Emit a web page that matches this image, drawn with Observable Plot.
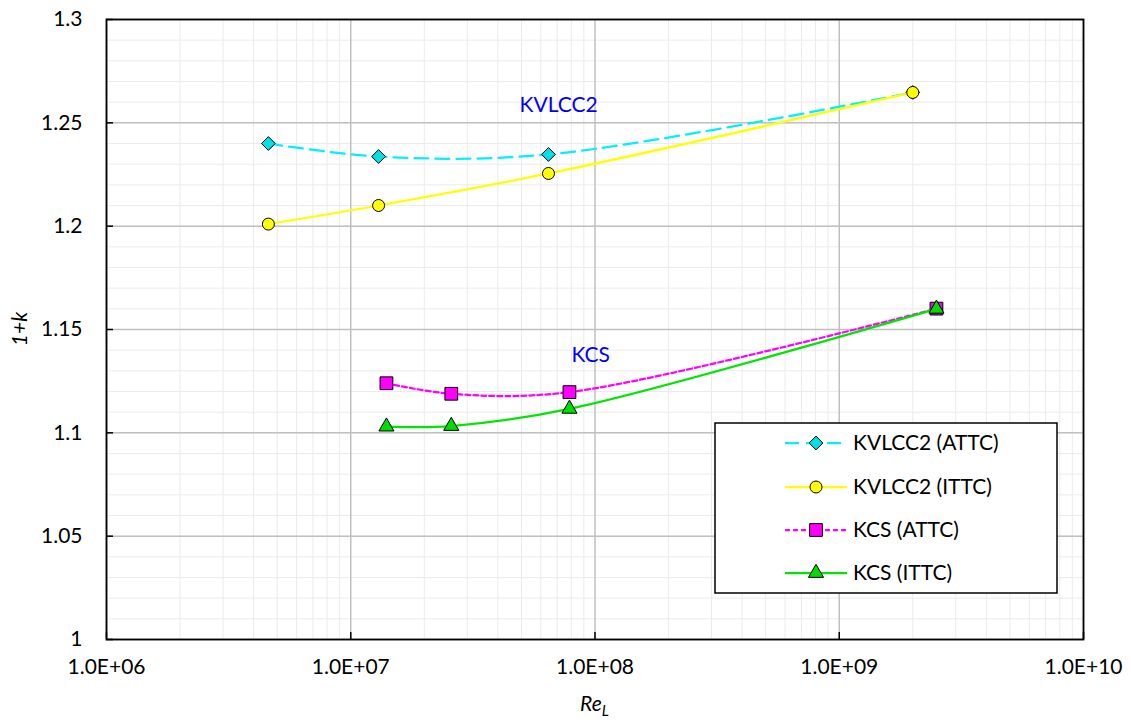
<!DOCTYPE html>
<html>
<head>
<meta charset="utf-8">
<script src="https://cdn.jsdelivr.net/npm/d3@7"></script>
<script src="https://cdn.jsdelivr.net/npm/@observablehq/plot@0.6"></script>
<style>
  body { margin: 0; background: #fff; }
  #chart { width: 1131px; height: 722px; }
</style>
</head>
<body>
<div id="chart"></div>
<script>
// Form factor (1+k) against Reynolds number for two hull forms and two extrapolation methods
const kvlccRe   = [4.6e6, 1.3e7, 6.45e7, 2.0e9];
const kvlccAttc = [1.2400, 1.2337, 1.2347, 1.2647];
const kvlccIttc = [1.2010, 1.2100, 1.2255, 1.2647];

const kcsRe   = [1.4e7, 2.58e7, 7.86e7, 2.5e9];
const kcsAttc = [1.1240, 1.1189, 1.1197, 1.1601];
const kcsIttc = [1.1030, 1.1033, 1.1116, 1.1600];

const seriesNames = ["KVLCC2 (ATTC)", "KVLCC2 (ITTC)", "KCS (ATTC)", "KCS (ITTC)"];

const xTicks = [1e6, 1e7, 1e8, 1e9, 1e10];
const yTicks = [1, 1.05, 1.1, 1.15, 1.2, 1.25, 1.3];

const shipNames   = ["KVLCC2", "KCS"];
const shipNameRe  = [7.1e7, 9.6e7];
const shipNameK   = [1.2586, 1.1375];

// Series styling
const seriesStyle = [
  { stroke: "#00f0ff", fill: "#00e0e6", dash: "14,7", symbol: "diamond2", r: 6.2 },
  { stroke: "#ffff00", fill: "#ffff00", dash: null,   symbol: "circle",   r: 6 },
  { stroke: "#ff00ff", fill: "#ff00ff", dash: "5,3",  symbol: "square",   r: 7.2 },
  { stroke: "#00e600", fill: "#00dd00", dash: null,   symbol: "triangle", r: 5.6 }
];

const rows = (re, k, name) => re.map((r, i) => ({ re: r, k: k[i], series: name }));
const series = [
  rows(kvlccRe, kvlccAttc, seriesNames[0]),
  rows(kvlccRe, kvlccIttc, seriesNames[1]),
  rows(kcsRe, kcsAttc, seriesNames[2]),
  rows(kcsRe, kcsIttc, seriesNames[3])
];

// Minor gridlines: 2..9 within each decade, and every 0.01 on the y axis
const xMinor = [];
for (let e = 6; e < 10; e++) for (let m = 2; m <= 9; m++) xMinor.push(m * Math.pow(10, e));
const yMinor = d3.range(100, 131).map(v => v / 100);

const W = 1131, H = 722, mL = 106, mR = 48, mT = 19, mB = 83;
const innerW = W - mL - mR, innerH = H - mT - mB;
const FONT = "Lato, sans-serif";
const FS = 21;

const expFormat = d => d.toExponential(1).toUpperCase().replace(/E([+-])(\d)$/, "E$10$2");

const seriesMarks = series.flatMap((data, i) => {
  const s = seriesStyle[i];
  return [
    Plot.line(data, {
      x: "re", y: "k", curve: "catmull-rom",
      stroke: s.stroke, strokeWidth: 2.25,
      strokeDasharray: s.dash || undefined
    }),
    Plot.dot(data, {
      x: "re", y: "k", symbol: () => s.symbol, r: s.r,
      fill: s.fill, stroke: "#000", strokeWidth: 1
    })
  ];
});

const plot = Plot.plot({
  width: W, height: H,
  marginLeft: mL, marginRight: mR, marginTop: mT, marginBottom: mB,
  style: { fontFamily: FONT, fontSize: FS + "px", color: "#000", background: "#fff" },
  x: { type: "log", domain: [1e6, 1e10] },
  y: { domain: [1, 1.3] },
  symbol: { type: "identity" },
  marks: [
    Plot.gridX(xMinor, { stroke: "#ebebeb", strokeOpacity: 1, strokeWidth: 1 }),
    Plot.gridY(yMinor, { stroke: "#ebebeb", strokeOpacity: 1, strokeWidth: 1 }),
    Plot.gridX(xTicks, { stroke: "#c0c0c0", strokeOpacity: 1, strokeWidth: 1.5 }),
    Plot.gridY(yTicks, { stroke: "#c0c0c0", strokeOpacity: 1, strokeWidth: 1.5 }),
    // short inward tick marks
    Plot.gridX(xTicks, { stroke: "#000", strokeOpacity: 1, strokeWidth: 1.5, insetTop: innerH - 7 }),
    Plot.gridY(yTicks, { stroke: "#000", strokeOpacity: 1, strokeWidth: 1.5, insetRight: innerW - 7 }),
    Plot.frame({ stroke: "#000", strokeWidth: 1.8 }),
    Plot.axisX(xTicks, { tickSize: 0, tickPadding: 20, tickFormat: expFormat, label: null }),
    Plot.axisY(yTicks, { tickSize: 0, tickPadding: 24, tickFormat: d => String(+d.toFixed(2)), label: null }),
    ...seriesMarks,
    Plot.text(shipNames, {
      x: (d, i) => shipNameRe[i], y: (d, i) => shipNameK[i], text: d => d,
      fill: "#0000ff", fontSize: FS, textAnchor: "middle"
    })
  ]
});

document.getElementById("chart").appendChild(plot);

const svg = d3.select(plot);

// Axis titles
const xTitle = svg.append("text")
  .attr("x", mL + innerW / 2).attr("y", 711)
  .attr("text-anchor", "middle")
  .style("font-style", "italic").style("font-size", FS + "px").attr("fill", "#000");
xTitle.append("tspan").text("Re");
xTitle.append("tspan").attr("dy", 5).style("font-size", "15px").text("L");

svg.append("text")
  .attr("transform", `translate(27, ${mT + innerH / 2}) rotate(-90)`)
  .attr("text-anchor", "middle")
  .style("font-style", "italic").style("font-size", FS + "px").attr("fill", "#000")
  .text("1+k");

// Legend box
const symbolTypes = { diamond2: d3.symbolDiamond2, circle: d3.symbolCircle, square: d3.symbolSquare, triangle: d3.symbolTriangle };
const legend = svg.append("g").attr("transform", "translate(715, 423)");
legend.append("rect")
  .attr("width", 342).attr("height", 170)
  .attr("fill", "#fff").attr("stroke", "#000").attr("stroke-width", 1.5);
const rowY = [20, 64, 107, 150];
seriesNames.forEach((name, i) => {
  const s = seriesStyle[i];
  const g = legend.append("g").attr("transform", `translate(0, ${rowY[i]})`);
  g.append("line")
    .attr("x1", 70).attr("x2", 132)
    .attr("stroke", s.stroke).attr("stroke-width", 2.25)
    .attr("stroke-dasharray", s.dash);
  g.append("path")
    .attr("transform", "translate(101, 0)")
    .attr("d", d3.symbol(symbolTypes[s.symbol], Math.PI * s.r * s.r)())
    .attr("fill", s.fill).attr("stroke", "#000").attr("stroke-width", 1);
  g.append("text")
    .attr("x", 138).attr("dy", "0.35em")
    .attr("text-anchor", "start")
    .style("font-size", FS + "px").attr("fill", "#000")
    .text(name);
});
</script>
</body>
</html>
